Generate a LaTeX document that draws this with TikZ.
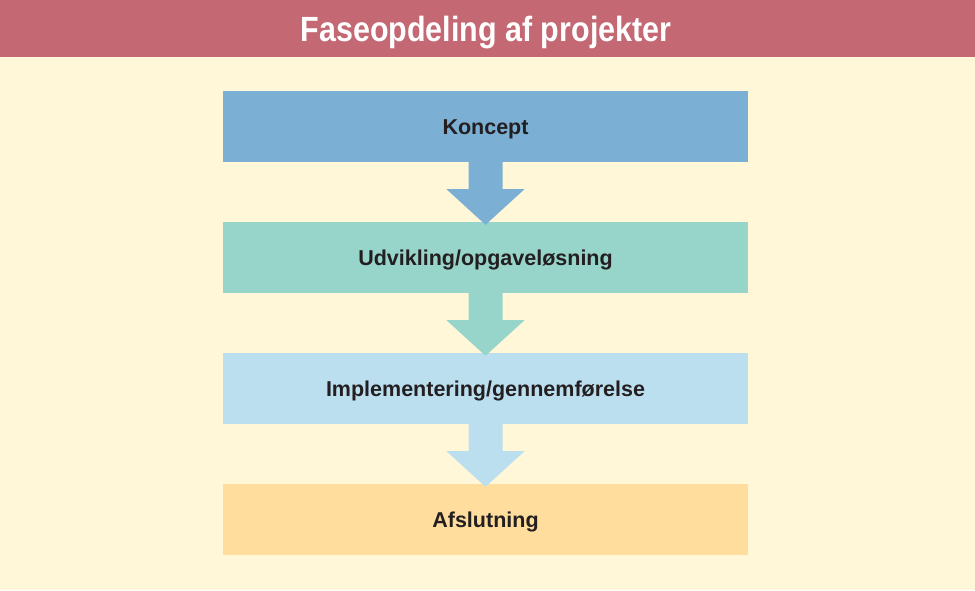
\documentclass[tikz,border=0pt]{standalone}
\usepackage{fontspec}
\setmainfont{Liberation Sans}
\usetikzlibrary{calc}
\definecolor{hdr}{HTML}{C46874}
\definecolor{bg}{HTML}{FFF7D8}
\definecolor{cA}{HTML}{7BAFD4}
\definecolor{cB}{HTML}{97D5CA}
\definecolor{cC}{HTML}{BCDFF0}
\definecolor{cD}{HTML}{FFDD9C}
\definecolor{txt}{HTML}{231F20}
\tikzset{
  phasebox/.style={minimum width=525pt, minimum height=71pt, inner sep=0pt,
    text height=15pt, text depth=0pt,
    font=\fontsize{21.5}{25}\selectfont\bfseries, text=txt},
}
\newcommand{\downarrowshape}[3]{%
  \fill[#3] ($(#1.south)+(-17,0)$) -- ($(#1.south)+(17,0)$) -- ($(#1.south)+(17,27)$)
    -- ($(#1.south)+(39,27)$) -- ($(#2.north)+(0,3)$) -- ($(#1.south)+(-39,27)$)
    -- ($(#1.south)+(-17,27)$) -- cycle;}
\begin{document}
\begin{tikzpicture}[x=1pt,y=-1pt]
\useasboundingbox (0,0) rectangle (975,590);
\fill[bg] (0,0) rectangle (975,590);
\fill[hdr] (0,0) rectangle (975,57);
\node[text=white, font=\fontsize{35}{40}\selectfont\bfseries, text height=25pt, text depth=0pt, inner sep=0pt] (title) at (486,29) {\scalebox{0.87}[1]{Faseopdeling af projekter}};
\node[phasebox, fill=cA] (b1) at (485.5,126.5) {Koncept};
\node[phasebox, fill=cB] (b2) at (485.5,257.5) {Udvikling/opgaveløsning};
\node[phasebox, fill=cC] (b3) at (485.5,388.5) {Implementering/gennemførelse};
\node[phasebox, fill=cD] (b4) at (485.5,519.5) {Afslutning};
\downarrowshape{b1}{b2}{cA}
\downarrowshape{b2}{b3}{cB}
\downarrowshape{b3}{b4}{cC}
\end{tikzpicture}
\end{document}
